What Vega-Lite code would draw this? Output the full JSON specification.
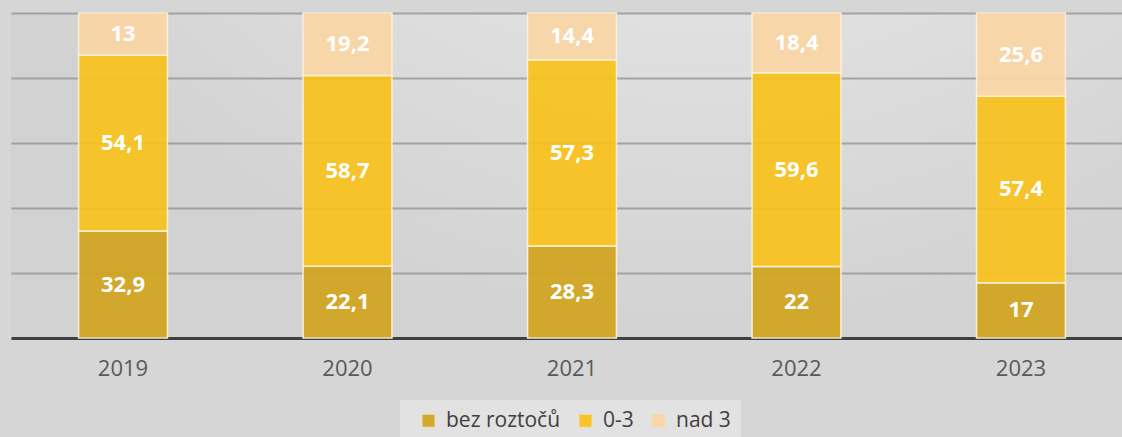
{
  "$schema": "https://vega.github.io/schema/vega-lite/v6.json",
  "autosize": "none",
  "width": 1122,
  "height": 325,
  "padding": {"left": 11, "top": 13, "right": 0, "bottom": 99},
  "background": "#d6d6d6",
  "config": {
    "locale": {"number": {"decimal": ",", "thousands": " ", "grouping": [3], "currency": ["", " €"]}},
    "font": "Open Sans",
    "view": {
      "stroke": null,
      "fill": {
        "gradient": "radial",
        "x1": 0.62, "y1": -0.1, "r1": 0,
        "x2": 0.62, "y2": -0.1, "r2": 0.75,
        "stops": [
          {"offset": 0, "color": "#f2f2f2"},
          {"offset": 0.5, "color": "#e4e4e4"},
          {"offset": 1, "color": "#d2d2d2"}
        ]
      }
    }
  },
  "data": {
    "values": [
      {"year": "2019", "category": "bez roztočů", "value": 32.9},
      {"year": "2019", "category": "0-3", "value": 54.1},
      {"year": "2019", "category": "nad 3", "value": 13},
      {"year": "2020", "category": "bez roztočů", "value": 22.1},
      {"year": "2020", "category": "0-3", "value": 58.7},
      {"year": "2020", "category": "nad 3", "value": 19.2},
      {"year": "2021", "category": "bez roztočů", "value": 28.3},
      {"year": "2021", "category": "0-3", "value": 57.3},
      {"year": "2021", "category": "nad 3", "value": 14.4},
      {"year": "2022", "category": "bez roztočů", "value": 22},
      {"year": "2022", "category": "0-3", "value": 59.6},
      {"year": "2022", "category": "nad 3", "value": 18.4},
      {"year": "2023", "category": "bez roztočů", "value": 17},
      {"year": "2023", "category": "0-3", "value": 57.4},
      {"year": "2023", "category": "nad 3", "value": 25.6}
    ]
  },
  "transform": [
    {"calculate": "indexof(['bez roztočů', '0-3', 'nad 3'], datum.category)", "as": "rank"},
    {"stack": "value", "groupby": ["year"], "sort": [{"field": "rank", "order": "ascending"}], "as": ["y0", "y1"]},
    {"calculate": "(datum.y0 + datum.y1) / 2", "as": "ymid"}
  ],
  "encoding": {
    "x": {
      "field": "year", "type": "nominal",
      "scale": {"paddingInner": 0.604, "paddingOuter": 0.301},
      "axis": {
        "title": null, "labelAngle": 0, "labelFontSize": 22, "labelColor": "#595959",
        "labelPadding": 20, "ticks": false, "domainColor": "#404040", "domainWidth": 3,
        "labelFont": "Open Sans"
      }
    }
  },
  "layer": [
    {
      "mark": {"type": "bar", "opacity": 0.92, "stroke": "#fff3d6", "strokeWidth": 1.5},
      "encoding": {
        "y": {
          "field": "y0", "type": "quantitative",
          "scale": {"domain": [0, 100], "nice": false},
          "axis": {
            "title": null, "labels": false, "ticks": false, "domain": false,
            "values": [20, 40, 60, 80, 100], "gridColor": "#8c8c8c", "gridWidth": 2, "gridOpacity": 0.7
          }
        },
        "y2": {"field": "y1"},
        "color": {
          "field": "category", "type": "nominal",
          "scale": {"domain": ["bez roztočů", "0-3", "nad 3"], "range": ["#d2a51e", "#f9c31c", "#fad6a5"]},
          "legend": {
            "title": null, "orient": "none", "direction": "horizontal",
            "legendX": 389, "legendY": 387,
            "fillColor": "#e2e2e2", "padding": 10,
            "labelFontSize": 21, "labelColor": "#404040", "labelFont": "Open Sans",
            "symbolType": "square", "symbolSize": 169, "symbolStrokeColor": "#f0e0b0", "symbolStrokeWidth": 1,
            "symbolOffset": 8, "columnPadding": 6, "labelOffset": 7
          }
        }
      }
    },
    {
      "mark": {"type": "text", "color": "white", "fontSize": 22, "fontWeight": "bold", "font": "Open Sans"},
      "encoding": {
        "y": {"field": "ymid", "type": "quantitative"},
        "text": {"field": "value", "type": "quantitative", "format": ".3~g"}
      }
    }
  ]
}
